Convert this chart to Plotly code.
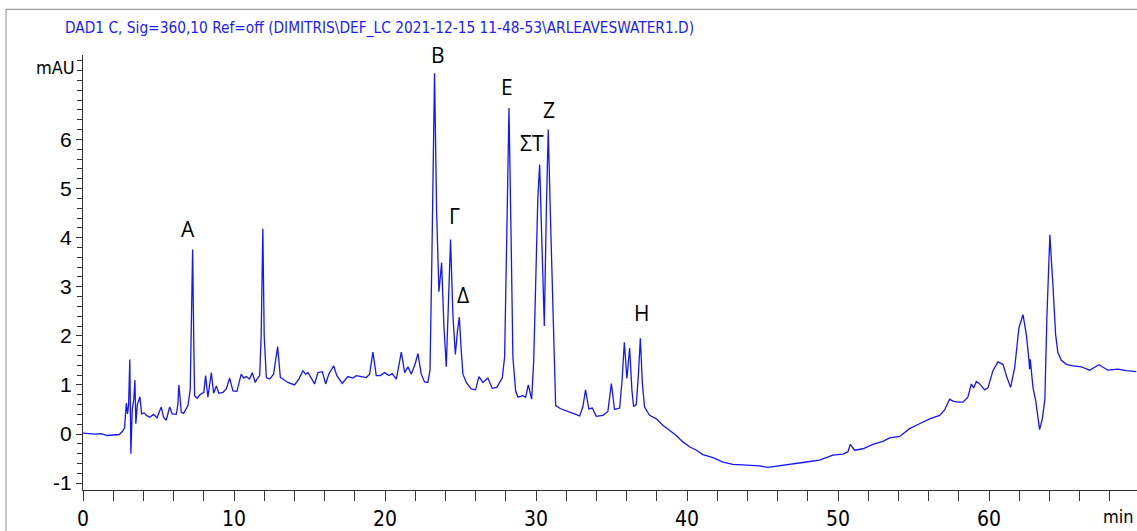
import plotly.graph_objects as go

# Chromatogram readings (retention time in min, absorbance in mAU)
time_min = [
    0.0, 0.4, 0.8, 1.2, 1.6, 2.0, 2.4, 2.6, 2.75, 2.87, 2.95, 3.02, 3.1, 3.17, 3.26, 3.36, 3.44, 3.5, 3.6,
    3.77, 3.88, 4.05, 4.19, 4.41, 4.55, 4.68, 4.9, 5.18, 5.34, 5.51, 5.74, 5.91, 6.18, 6.28, 6.35, 6.44,
    6.51, 6.66, 6.95, 7.1, 7.18, 7.26, 7.33, 7.39, 7.55, 7.75, 8.0, 8.12, 8.27, 8.5, 8.65, 8.83, 9.0,
    9.27, 9.49, 9.71, 9.93, 10.19, 10.48, 10.64, 10.81, 11.03, 11.21, 11.41, 11.52, 11.7, 11.8, 11.91,
    12.0, 12.14, 12.36, 12.62, 12.89, 13.07, 13.24, 13.57, 14.01, 14.3, 14.56, 14.74, 14.9, 15.12,
    15.34, 15.56, 15.85, 16.07, 16.28, 16.6, 16.81, 17.17, 17.54, 17.87, 18.1, 18.43, 18.76, 18.98,
    19.2, 19.42, 19.69, 19.97, 20.26, 20.48, 20.75, 21.08, 21.3, 21.52, 21.74, 22.0, 22.18, 22.4,
    22.62, 22.84, 22.98, 23.1, 23.28, 23.42, 23.57, 23.75, 23.9, 24.06, 24.2, 24.34, 24.5, 24.66,
    24.8, 24.92, 25.05, 25.16, 25.38, 25.71, 26.0, 26.22, 26.48, 26.81, 27.1, 27.41, 27.77, 27.92,
    28.05, 28.21, 28.35, 28.47, 28.65, 28.8, 29.13, 29.31, 29.49, 29.71, 29.85, 29.97, 30.12, 30.24,
    30.4, 30.55, 30.68, 30.81, 30.95, 31.08, 31.2, 31.3, 31.6, 32.0, 32.45, 32.89, 33.1, 33.28, 33.5,
    33.73, 33.99, 34.43, 34.76, 34.99, 35.2, 35.54, 35.7, 35.85, 36.02, 36.2, 36.35, 36.46, 36.64,
    36.78, 36.91, 37.05, 37.19, 37.52, 37.97, 38.4, 38.85, 39.29, 39.73, 40.17, 40.62, 41.05, 41.72,
    42.38, 43.04, 43.93, 44.81, 45.36, 46.13, 47.01, 47.9, 48.78, 49.66, 50.33, 50.66, 50.81, 51.1,
    51.65, 52.31, 52.97, 53.42, 54.08, 54.74, 55.4, 56.07, 56.73, 57.06, 57.39, 57.61, 57.94, 58.27,
    58.6, 58.83, 58.98, 59.16, 59.38, 59.71, 59.93, 60.26, 60.59, 60.92, 61.19, 61.43, 61.7, 61.98,
    62.25, 62.47, 62.64, 62.69, 62.73, 62.91, 63.09, 63.35, 63.53, 63.7, 63.83, 64.03, 64.23, 64.41,
    64.56, 64.79, 65.12, 65.56, 66.11, 66.66, 67.28, 67.87, 68.54, 69.09, 69.75,
]
absorbance_mau = [
    0.02, 0.01, 0.0, 0.01, -0.03, -0.02, -0.01, 0.05, 0.12, 0.63, 0.41, 0.6, 1.52, -0.40, 0.5, 0.7, 1.10, 0.21, 0.6,
    0.76, 0.41, 0.43, 0.38, 0.34, 0.38, 0.40, 0.33, 0.55, 0.34, 0.28, 0.55, 0.41, 0.40, 0.6, 1.0, 0.6,
    0.44, 0.42, 0.58, 0.9, 2.2, 3.76, 2.0, 0.78, 0.73, 0.8, 0.85, 1.19, 0.75, 1.25, 0.83, 0.98, 0.83,
    0.85, 0.92, 1.14, 0.88, 0.87, 1.22, 1.14, 1.17, 1.12, 1.25, 1.05, 1.12, 1.19, 2.0, 4.18,
    2.0, 1.15, 1.12, 1.22, 1.78, 1.15, 1.12, 1.05, 1.0, 1.12, 1.29, 1.22, 1.25, 1.12,
    1.02, 1.25, 1.27, 1.02, 1.22, 1.39, 1.19, 1.03, 1.17, 1.14, 1.19, 1.17, 1.15, 1.22,
    1.67, 1.19, 1.19, 1.25, 1.19, 1.23, 1.12, 1.67, 1.25, 1.37, 1.22, 1.43, 1.64, 1.22,
    1.06, 1.05, 1.3, 3.5, 7.35, 4.5, 2.9, 3.49, 2.2, 1.37, 2.5, 3.96, 2.4, 1.62,
    2.1, 2.38, 1.7, 1.22, 1.05, 0.92, 0.9, 1.17, 1.05, 1.14, 0.93, 0.95, 1.15, 1.56,
    3.8, 6.64, 4.0, 1.56, 0.88, 0.75, 0.78, 0.75, 1.0, 0.71, 1.5, 2.9, 4.8, 5.49,
    3.8, 2.2, 4.5, 6.2, 4.5, 2.9, 1.2, 0.58, 0.52, 0.48, 0.42, 0.37, 0.55, 0.9, 0.51,
    0.53, 0.36, 0.38, 0.46, 1.03, 0.50, 0.53, 1.1, 1.87, 1.13, 1.75, 0.9, 0.56, 0.6,
    1.2, 1.95, 1.0, 0.55, 0.38, 0.31, 0.18, 0.07, -0.03, -0.16, -0.26, -0.33, -0.42, -0.48,
    -0.57, -0.62, -0.63, -0.65, -0.68, -0.65, -0.61, -0.57, -0.53, -0.43, -0.41, -0.36, -0.21, -0.33,
    -0.3, -0.21, -0.15, -0.08, -0.05, 0.11, 0.21, 0.31, 0.38, 0.49, 0.71, 0.67, 0.65, 0.65,
    0.75, 1.02, 0.94, 1.07, 1.02, 0.9, 0.94, 1.29, 1.47, 1.42, 1.15, 0.95, 1.35, 2.16,
    2.43, 2.03, 1.52, 1.32, 1.52, 0.95, 0.68, 0.09, 0.31, 0.71, 2.36, 4.06, 3.04, 2.03,
    1.66, 1.5, 1.42, 1.39, 1.37, 1.3, 1.41, 1.3, 1.32, 1.29, 1.27,
]

# Peak labels
peak_labels = ["A", "B", "Γ", "Δ", "E", "ΣT", "Z", "H"]
peak_label_x = [6.93, 23.5, 24.6, 25.15, 28.1, 29.75, 30.85, 37.0]
peak_label_y = [4.18, 7.72, 4.44, 2.83, 7.07, 5.92, 6.6, 2.46]

x_tick_vals = [0, 10, 20, 30, 40, 50, 60]
x_tick_text = ["0", "10", "20", "30", "40", "50", "60"]
y_tick_vals = [-1, 0, 1, 2, 3, 4, 5, 6]
y_tick_text = ["-1", "0", "1", "2", "3", "4", "5", "6"]

title_text = "DAD1 C, Sig=360,10 Ref=off (DIMITRIS\\DEF_LC 2021-12-15 11-48-53\\ARLEAVESWATER1.D)"

W, H = 1137, 531
L, R, T, B = 83, 0, 55, 38
X_RANGE = [0, 69.8]
Y_RANGE = [-1.14, 7.72]

fig = go.Figure()
fig.add_trace(go.Scatter(
    x=time_min, y=absorbance_mau, mode="lines",
    line=dict(color="#1515ff", width=1.3), hoverinfo="skip", showlegend=False,
))

narrow = "Liberation Sans Narrow, DejaVu Sans Condensed, Arial Narrow, sans-serif"

for txt, xv, yv in zip(peak_labels, peak_label_x, peak_label_y):
    fig.add_annotation(x=xv, y=yv, text=txt, showarrow=False, xref="x", yref="y",
                       font=dict(family="Open Sans, Noto Sans, sans-serif", size=21, color="black"),
                       xanchor="center", yanchor="middle")

pw = W - L - R
ph = H - T - B

def px(xpix):
    return (xpix - L) / pw

def py(ypix):
    return (H - B - ypix) / ph

# title
fig.add_annotation(x=px(379), y=py(28), xref="paper", yref="paper", text=title_text, showarrow=False,
                   font=dict(family=narrow, size=15.3, color="#1a1aff"), xanchor="center", yanchor="middle")
# y unit
fig.add_annotation(x=px(77), y=py(68), xref="paper", yref="paper", text="mAU", showarrow=False,
                   font=dict(family=narrow, size=18, color="black"), xanchor="right", yanchor="middle")
# x unit
fig.add_annotation(x=px(1136), y=py(520), xref="paper", yref="paper", text="min", showarrow=False,
                   font=dict(family=narrow, size=18, color="black"), xanchor="right", yanchor="middle")

# outer gray frame
fig.add_shape(type="rect", xref="paper", yref="paper", x0=px(6), x1=px(1145), y0=py(545), y1=py(9),
              line=dict(color="#8a8a8a", width=1), fillcolor="rgba(0,0,0,0)", layer="below")

fig.update_layout(
    width=W, height=H,
    margin=dict(l=L, r=R, t=T, b=B, pad=0),
    paper_bgcolor="white", plot_bgcolor="white",
    showlegend=False,
    xaxis=dict(range=X_RANGE, tickvals=x_tick_vals, ticktext=x_tick_text, ticks="outside", ticklen=10,
               tickcolor="#333", showline=True, linecolor="#333", linewidth=1, showgrid=False, zeroline=False,
               tickfont=dict(family=narrow, size=21, color="black"),
               minor=dict(dtick=2, ticks="outside", ticklen=10, tickcolor="#333", showgrid=False)),
    yaxis=dict(range=Y_RANGE, tickvals=y_tick_vals, ticktext=y_tick_text, ticks="outside", ticklen=6,
               tickcolor="#333", showline=True, linecolor="#333", linewidth=1, showgrid=False, zeroline=False,
               tickfont=dict(family="Arial, Liberation Sans, sans-serif", size=21, color="black"),
               minor=dict(dtick=0.2, ticks="outside", ticklen=5, tickcolor="#333", showgrid=False)),
)

fig.write_html("out.html")
